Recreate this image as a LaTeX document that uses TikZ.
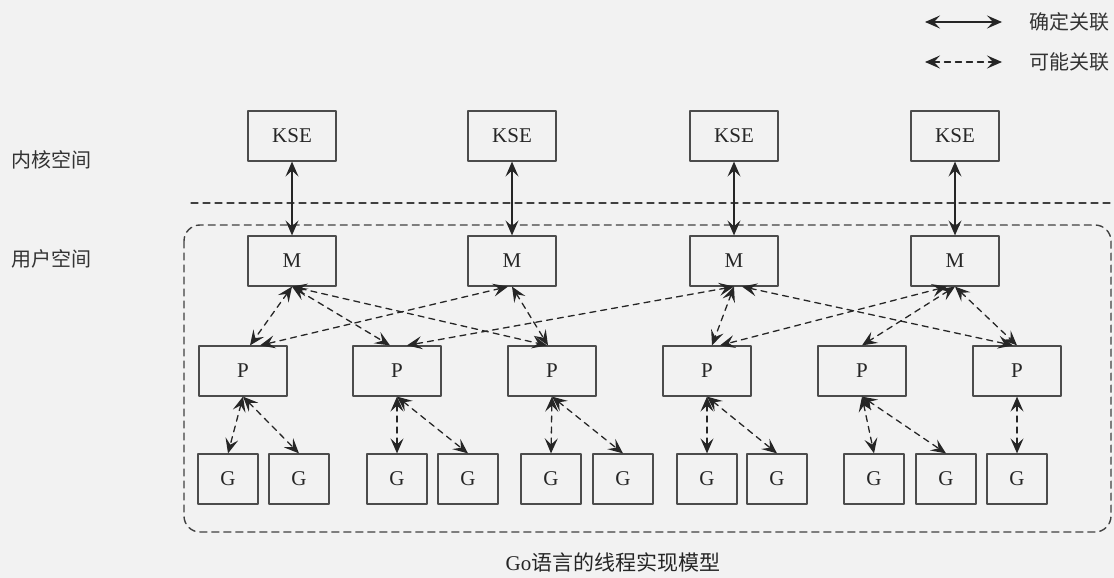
\documentclass[tikz,border=0pt]{standalone}
\usepackage{fontspec}
\setmainfont{Liberation Serif}
\newfontfamily\cjk{Noto Sans CJK SC}
\usetikzlibrary{arrows.meta}
\begin{document}
\begin{tikzpicture}[x=1pt,y=-1pt,line cap=round,line join=round,
    font=\fontsize{21}{25}\selectfont,
    box/.style={draw=black!70,line width=1.2pt,minimum width=88pt,minimum height=50pt,inner sep=0pt,text=black!85},
    gbox/.style={box,minimum width=60pt},
    lbl/.style={text=black!80,font=\fontsize{20}{24}\selectfont\cjk},
    sure/.style={{Stealth[length=15pt,width=13pt,inset=6pt]}-{Stealth[length=15pt,width=13pt,inset=6pt]},line width=1.3pt,draw=black!85},
    maybe/.style={sure,dash pattern=on 6pt off 5pt}]
        \useasboundingbox (0,0) rectangle (1114,578);
        \fill[black!5] (0,0) rectangle (1114,578);

        % legend
        \coordinate (s1) at (925,22); \coordinate (s2) at (1002,22);
        \coordinate (d1) at (925,62); \coordinate (d2) at (1002,62);
        \draw[sure] (s1) -- (s2);
        \draw[maybe] (d1) -- (d2);
        \node[lbl,anchor=west] (sure) at (1026,22) {确定关联};
        \node[lbl,anchor=west] (maybe) at (1026,62) {可能关联};

        % spaces
        \node[lbl] (kern) at (52,160) {内核空间};
        \node[lbl] (user) at (52,259) {用户空间};
        \draw[black!75,line width=1.2pt,dash pattern=on 7pt off 5pt] (191,203) -- (1114,203);
        \draw[black!75,line width=1.4pt,dash pattern=on 7pt off 5pt,rounded corners=16pt] (184,225) rectangle (1111,532);

        \path (292,136) node[box] (k1) {KSE} (512,136) node[box] (k2) {KSE}
          (734,136) node[box] (k3) {KSE} (955,136) node[box] (k4) {KSE};
        \path (292,261) node[box] (m1) {M} (512,261) node[box] (m2) {M}
          (734,261) node[box] (m3) {M} (955,261) node[box] (m4) {M};
        \path (243,371) node[box] (p1) {P} (397,371) node[box] (p2) {P}
          (552,371) node[box] (p3) {P} (707,371) node[box] (p4) {P}
          (862,371) node[box] (p5) {P} (1017,371) node[box] (p6) {P};
        \path (228,479) node[gbox] (g1) {G} (299,479) node[gbox] (g2) {G}
          (397,479) node[gbox] (g3) {G} (468,479) node[gbox] (g4) {G}
          (551,479) node[gbox] (g5) {G} (623,479) node[gbox] (g6) {G}
          (707,479) node[gbox] (g7) {G} (777,479) node[gbox] (g8) {G}
          (874,479) node[gbox] (g9) {G} (946,479) node[gbox] (g10) {G}
          (1017,479) node[gbox] (g11) {G};

        \draw[sure] (k1)--(m1); \draw[sure] (k2)--(m2);
        \draw[sure] (k3)--(m3); \draw[sure] (k4)--(m4);

        \draw[maybe] (m1.south)--([xshift=7pt]p1.north);
        \draw[maybe] (m1.south)--([xshift=-7pt]p2.north);
        \draw[maybe] (m1.south)--([xshift=-5pt]p3.north);
        \draw[maybe] ([xshift=-4pt]m2.south)--([xshift=17pt]p1.north);
        \draw[maybe] (m2.south)--([xshift=-4pt]p3.north);
        \draw[maybe] (m3.south)--([xshift=10pt]p2.north);
        \draw[maybe] (m3.south)--([xshift=5pt]p4.north);
        \draw[maybe] ([xshift=8pt]m3.south)--([xshift=-4pt]p6.north);
        \draw[maybe] ([xshift=-8pt]m4.south)--([xshift=13pt]p4.north);
        \draw[maybe] (m4.south)--(p5.north);
        \draw[maybe] (m4.south)--(p6.north);

        \draw[maybe] (p1.south)--(g1.north); \draw[maybe] (p1.south)--(g2.north);
        \draw[maybe] (p2.south)--(g3.north); \draw[maybe] (p2.south)--(g4.north);
        \draw[maybe] (p3.south)--(g5.north); \draw[maybe] (p3.south)--(g6.north);
        \draw[maybe] (p4.south)--(g7.north); \draw[maybe] (p4.south)--(g8.north);
        \draw[maybe] (p5.south)--(g9.north); \draw[maybe] (p5.south)--(g10.north);
        \draw[maybe] (p6.south)--(g11.north);

        \node[text=black!85] (cap) at (613,562) {Go{\cjk 语言的线程实现模型}};
      \end{tikzpicture}
\end{document}
